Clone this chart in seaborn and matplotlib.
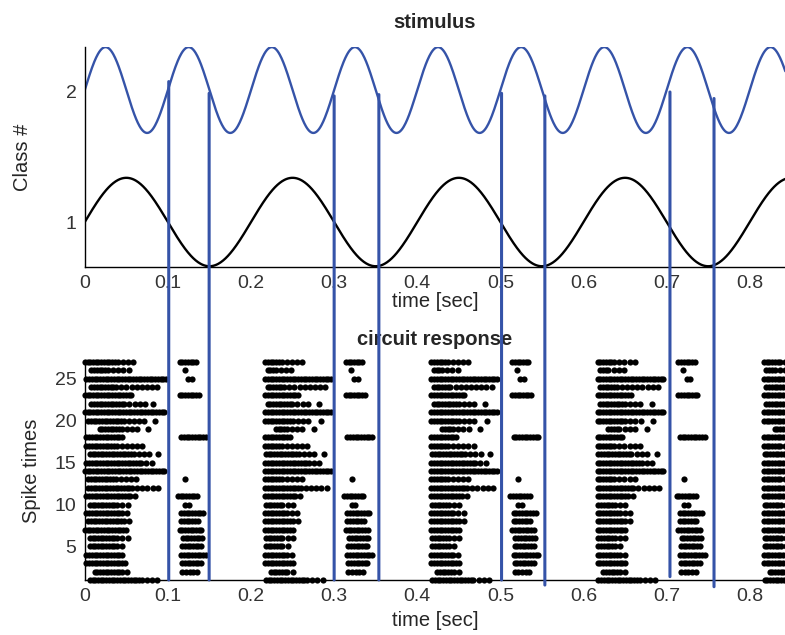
import numpy as np
import pandas as pd
import matplotlib
matplotlib.use("Agg")
import matplotlib.pyplot as plt
from matplotlib.patches import ConnectionPatch
import seaborn as sns

# ---------------- data ----------------
# stimulus sinusoids
slow_period = 0.2      # s
slow_center = 1.0
slow_amp = 0.34
fast_period = 0.1      # s
fast_center = 2.015
fast_amp = 0.33

# neuron rows 1..27, main burst per cycle: start, end of dense part, end of burst
rows = list(range(1, 28))
main_start = [0.006, 0.012, 0.002, 0.002, 0.006, 0.006, 0.000, 0.004, 0.002, 0.006,
              0.002, 0.004, 0.004, 0.000, 0.002, 0.006, 0.002, 0.002, 0.018, 0.004,
              0.000, 0.008, 0.000, 0.008, 0.002, 0.008, 0.000]
main_dense_end = [0.070, 0.045, 0.050, 0.045, 0.040, 0.040, 0.052, 0.050, 0.045, 0.040,
                  0.055, 0.060, 0.040, 0.098, 0.070, 0.060, 0.040, 0.048, 0.045, 0.050,
                  0.098, 0.050, 0.058, 0.040, 0.098, 0.030, 0.040]
main_end = [0.088, 0.054, 0.050, 0.050, 0.050, 0.052, 0.052, 0.058, 0.056, 0.054,
            0.064, 0.092, 0.062, 0.098, 0.086, 0.080, 0.072, 0.048, 0.066, 0.074,
            0.098, 0.074, 0.058, 0.090, 0.098, 0.054, 0.062]
# isolated late spikes of the main burst (row, time within cycle)
extra_rows = [16, 19, 20, 22]
extra_times = [0.088, 0.076, 0.084, 0.082]
# second (rebound) burst per cycle: row, start, end
rebound_rows = [27, 26, 25, 23, 18, 13, 11, 10, 9, 8, 7, 6, 5, 4, 3, 2]
rebound_start = [0.114, 0.120, 0.124, 0.114, 0.116, 0.121, 0.112, 0.121, 0.116, 0.116,
                 0.114, 0.118, 0.117, 0.116, 0.117, 0.117]
rebound_end = [0.136, 0.120, 0.130, 0.138, 0.146, 0.121, 0.136, 0.129, 0.144, 0.136,
               0.142, 0.142, 0.142, 0.146, 0.142, 0.136]
cycle_onsets = [0.0, 0.2, 0.4, 0.6, 0.8]
late_cycle_delay = 0.017

# blue marker lines: time, top (stimulus units), bottom (row units)
marker_times = [0.101, 0.1496, 0.300, 0.3538, 0.5014, 0.5535, 0.704, 0.757]
marker_tops = [2.08, 1.99, 1.97, 1.98, 1.99, 1.97, 2.00, 1.95]
marker_bottoms = [1.0, 1.0, 1.0, 1.0, 1.0, 0.4, 1.4, 0.2]

# ---------------- build tables ----------------
t = np.linspace(0, 0.86, 1200)
stim = pd.DataFrame({
    "time": np.concatenate([t, t]),
    "value": np.concatenate([slow_center + slow_amp * np.sin(2 * np.pi * t / slow_period),
                             fast_center + fast_amp * np.sin(2 * np.pi * t / fast_period)]),
    "curve": ["slow"] * len(t) + ["fast"] * len(t),
})

dense_step = 0.0033
sparse_step = 0.0062
spk_t, spk_r = [], []
for ci, onset in enumerate(cycle_onsets):
    for r, s, de, e in zip(rows, main_start, main_dense_end, main_end):
        if ci > 0:
            s = max(s + 0.012, late_cycle_delay)
        dense = np.arange(s, max(de, s) + 1e-9, dense_step)
        last = dense[-1]
        sparse = np.arange(last + sparse_step, e + 1e-9, sparse_step)
        for tt in np.concatenate([dense, sparse]):
            spk_t.append(onset + tt)
            spk_r.append(r)
    for r, tt in zip(extra_rows, extra_times):
        spk_t.append(onset + tt)
        spk_r.append(r)
    for r, s, e in zip(rebound_rows, rebound_start, rebound_end):
        step = dense_step if (e - s) > 0.02 else 0.0045
        for tt in np.arange(s, e + 1e-9, step):
            spk_t.append(onset + tt)
            spk_r.append(r)
spikes = pd.DataFrame({"time": spk_t, "row": spk_r})

# ---------------- plotting ----------------
sns.set_theme(style="white")
plt.rcParams["font.family"] = ["Liberation Sans", "DejaVu Sans"]
plt.rcParams["xtick.direction"] = "in"
plt.rcParams["ytick.direction"] = "in"

fig = plt.figure(figsize=(7.85, 6.35), dpi=100)
ax1 = fig.add_axes([0.108, 0.5795, 0.892, 0.3465])
ax2 = fig.add_axes([0.108, 0.0866, 0.892, 0.3434])

blue = "#3553a8"
xt_labels = ["0", "0.1", "0.2", "0.3", "0.4", "0.5", "0.6", "0.7", "0.8"]
sns.lineplot(data=stim, x="time", y="value", hue="curve",
             palette={"slow": "black", "fast": blue}, ax=ax1, legend=False,
             linewidth=1.7, sort=False, estimator=None)
ax1.set_xlim(0, 0.8424)
ax1.set_ylim(0.654, 2.346)
ax1.set_yticks([1, 1.5, 2])
ax1.set_yticklabels(["1", "", "2"])
ax1.set_xticks(np.arange(0, 0.81, 0.1))
ax1.set_xticklabels(xt_labels)
ax1.set_title("stimulus", fontsize=14.5, fontweight="bold", pad=14)
ax1.set_xlabel("time [sec]", fontsize=14.5, labelpad=0)
ax1.set_ylabel("Class #", fontsize=14.5, labelpad=24)

sc = sns.scatterplot(data=spikes, x="time", y="row", ax=ax2, color="black",
                     s=20, linewidth=0, marker="o", legend=False)
for coll in ax2.collections:
    coll.set_clip_on(False)
ax2.set_xlim(0, 0.8424)
ax2.set_ylim(1, 27)
ax2.set_yticks([5, 10, 15, 20, 25])
ax2.set_xticks(np.arange(0, 0.81, 0.1))
ax2.set_xticklabels(xt_labels)
ax2.set_title("circuit response", fontsize=14.5, fontweight="bold", pad=12)
ax2.set_xlabel("time [sec]", fontsize=14.5, labelpad=4)
ax2.set_ylabel("Spike times", fontsize=14.5, labelpad=10)

for ax in (ax1, ax2):
    sns.despine(ax=ax, top=True, right=True)
    for sp in ("left", "bottom"):
        ax.spines[sp].set_color("black")
        ax.spines[sp].set_linewidth(1.0)
    ax.tick_params(axis="both", which="both", direction="in", length=5, width=0.8,
                   labelsize=14, colors="black", labelcolor="#333333", pad=6)
    ax.patch.set_alpha(0)

for xt, top, bot in zip(marker_times, marker_tops, marker_bottoms):
    con = ConnectionPatch(xyA=(xt, top), coordsA=ax1.transData,
                          xyB=(xt, bot), coordsB=ax2.transData,
                          color=blue, linewidth=2.2, zorder=5)
    fig.add_artist(con)

fig.savefig("out.png", dpi=100)
